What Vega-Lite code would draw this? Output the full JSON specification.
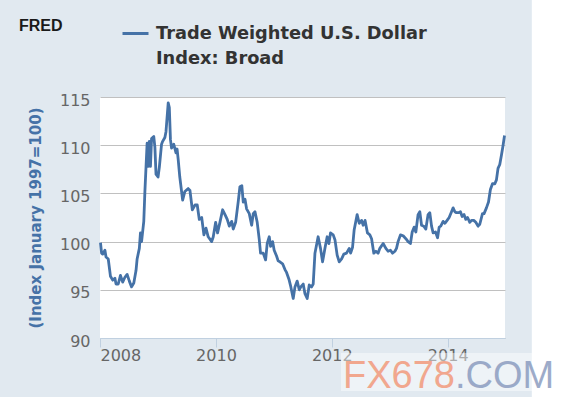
{
  "$schema": "https://vega.github.io/schema/vega-lite/v6.json",
  "width": 405,
  "height": 241,
  "autosize": {"type": "none"},
  "padding": {"left": 100, "top": 97, "right": 61, "bottom": 59},
  "background": "#E1E9F0",
  "title": {
    "text": ["Trade Weighted U.S. Dollar", "Index: Broad"],
    "anchor": "start",
    "frame": "group",
    "dx": 56,
    "dy": 77,
    "offset": 0,
    "font": "DejaVu Sans",
    "fontSize": 17.8,
    "fontWeight": "bold",
    "color": "#333333",
    "lineHeight": 25
  },
  "config": {
    "view": {"fill": "white", "stroke": null}
  },
  "data": {
    "values": [
      {"d": "2008-01-04", "v": 99.9}, {"d": "2008-01-11", "v": 98.8}, {"d": "2008-01-18", "v": 98.7}, {"d": "2008-02-01", "v": 99.1},
      {"d": "2008-02-08", "v": 98.4}, {"d": "2008-02-22", "v": 98.2}, {"d": "2008-03-07", "v": 96.4}, {"d": "2008-03-21", "v": 96.0},
      {"d": "2008-04-04", "v": 96.2}, {"d": "2008-04-11", "v": 95.6}, {"d": "2008-04-25", "v": 95.6}, {"d": "2008-05-09", "v": 96.5},
      {"d": "2008-05-23", "v": 95.8}, {"d": "2008-06-06", "v": 96.3}, {"d": "2008-06-20", "v": 96.6}, {"d": "2008-07-04", "v": 95.9},
      {"d": "2008-07-18", "v": 95.3}, {"d": "2008-08-01", "v": 95.7}, {"d": "2008-08-15", "v": 97.0}, {"d": "2008-08-22", "v": 98.2},
      {"d": "2008-09-05", "v": 99.3}, {"d": "2008-09-12", "v": 100.9}, {"d": "2008-09-19", "v": 100.0}, {"d": "2008-10-03", "v": 102.1},
      {"d": "2008-10-10", "v": 105.2}, {"d": "2008-10-24", "v": 110.2}, {"d": "2008-10-31", "v": 107.8}, {"d": "2008-11-07", "v": 110.4},
      {"d": "2008-11-14", "v": 107.8}, {"d": "2008-11-21", "v": 110.7}, {"d": "2008-12-05", "v": 110.9}, {"d": "2008-12-12", "v": 109.8},
      {"d": "2008-12-19", "v": 107.0}, {"d": "2009-01-01", "v": 106.7}, {"d": "2009-01-09", "v": 107.7}, {"d": "2009-01-23", "v": 110.1},
      {"d": "2009-01-30", "v": 110.4}, {"d": "2009-02-13", "v": 110.8}, {"d": "2009-02-20", "v": 111.4}, {"d": "2009-03-06", "v": 114.4},
      {"d": "2009-03-13", "v": 113.9}, {"d": "2009-03-20", "v": 110.6}, {"d": "2009-03-27", "v": 109.7}, {"d": "2009-04-10", "v": 110.1},
      {"d": "2009-04-24", "v": 109.2}, {"d": "2009-05-01", "v": 109.6}, {"d": "2009-05-08", "v": 108.5}, {"d": "2009-05-18", "v": 106.7},
      {"d": "2009-06-05", "v": 104.3}, {"d": "2009-06-19", "v": 105.2}, {"d": "2009-07-10", "v": 105.5}, {"d": "2009-07-21", "v": 105.3},
      {"d": "2009-08-05", "v": 103.3}, {"d": "2009-08-22", "v": 103.8}, {"d": "2009-09-05", "v": 103.8}, {"d": "2009-09-18", "v": 102.3},
      {"d": "2009-10-03", "v": 102.5}, {"d": "2009-10-17", "v": 100.7}, {"d": "2009-10-30", "v": 101.4}, {"d": "2009-11-13", "v": 100.5},
      {"d": "2009-12-05", "v": 100.0}, {"d": "2009-12-15", "v": 100.5}, {"d": "2009-12-30", "v": 102.0}, {"d": "2010-01-11", "v": 100.9},
      {"d": "2010-01-26", "v": 102.0}, {"d": "2010-02-12", "v": 103.3}, {"d": "2010-02-27", "v": 102.8}, {"d": "2010-03-13", "v": 102.3},
      {"d": "2010-03-26", "v": 101.6}, {"d": "2010-04-10", "v": 102.1}, {"d": "2010-04-20", "v": 101.3}, {"d": "2010-05-05", "v": 102.0},
      {"d": "2010-05-21", "v": 104.1}, {"d": "2010-06-01", "v": 105.7}, {"d": "2010-06-13", "v": 105.8}, {"d": "2010-06-22", "v": 104.1},
      {"d": "2010-07-03", "v": 104.4}, {"d": "2010-07-13", "v": 103.4}, {"d": "2010-07-30", "v": 102.9}, {"d": "2010-08-14", "v": 101.7},
      {"d": "2010-08-24", "v": 102.9}, {"d": "2010-09-04", "v": 103.1}, {"d": "2010-09-18", "v": 102.0}, {"d": "2010-10-01", "v": 100.2},
      {"d": "2010-10-09", "v": 98.8}, {"d": "2010-10-26", "v": 98.8}, {"d": "2010-11-10", "v": 98.1}, {"d": "2010-11-20", "v": 99.8},
      {"d": "2010-12-03", "v": 100.5}, {"d": "2010-12-11", "v": 99.5}, {"d": "2010-12-24", "v": 100.0}, {"d": "2011-01-03", "v": 99.1},
      {"d": "2011-01-18", "v": 98.5}, {"d": "2011-01-28", "v": 98.0}, {"d": "2011-02-08", "v": 97.9}, {"d": "2011-02-25", "v": 97.7},
      {"d": "2011-03-12", "v": 97.1}, {"d": "2011-03-22", "v": 96.8}, {"d": "2011-04-06", "v": 96.1}, {"d": "2011-04-18", "v": 95.3},
      {"d": "2011-05-03", "v": 94.1}, {"d": "2011-05-14", "v": 95.3}, {"d": "2011-05-28", "v": 95.9}, {"d": "2011-06-10", "v": 95.0},
      {"d": "2011-06-20", "v": 95.3}, {"d": "2011-07-05", "v": 95.6}, {"d": "2011-07-16", "v": 94.6}, {"d": "2011-07-30", "v": 94.1},
      {"d": "2011-08-12", "v": 95.5}, {"d": "2011-08-27", "v": 95.3}, {"d": "2011-09-06", "v": 95.6}, {"d": "2011-09-17", "v": 98.8},
      {"d": "2011-10-07", "v": 100.5}, {"d": "2011-10-22", "v": 99.3}, {"d": "2011-11-04", "v": 97.9}, {"d": "2011-11-19", "v": 99.3},
      {"d": "2011-12-03", "v": 100.5}, {"d": "2011-12-14", "v": 99.8}, {"d": "2011-12-24", "v": 100.9}, {"d": "2012-01-10", "v": 100.7},
      {"d": "2012-01-21", "v": 100.2}, {"d": "2012-02-04", "v": 98.6}, {"d": "2012-02-17", "v": 97.9}, {"d": "2012-03-03", "v": 98.2},
      {"d": "2012-03-17", "v": 98.7}, {"d": "2012-04-03", "v": 98.8}, {"d": "2012-04-20", "v": 99.3}, {"d": "2012-04-29", "v": 98.8},
      {"d": "2012-05-11", "v": 99.4}, {"d": "2012-05-21", "v": 101.2}, {"d": "2012-06-09", "v": 102.8}, {"d": "2012-06-22", "v": 101.9},
      {"d": "2012-07-07", "v": 102.2}, {"d": "2012-07-17", "v": 101.7}, {"d": "2012-07-29", "v": 102.2}, {"d": "2012-08-13", "v": 100.9},
      {"d": "2012-08-28", "v": 100.7}, {"d": "2012-09-08", "v": 100.3}, {"d": "2012-09-22", "v": 98.8}, {"d": "2012-10-05", "v": 99.0},
      {"d": "2012-10-19", "v": 98.8}, {"d": "2012-10-30", "v": 99.3}, {"d": "2012-11-20", "v": 99.8}, {"d": "2012-12-07", "v": 99.3},
      {"d": "2012-12-21", "v": 99.0}, {"d": "2013-01-05", "v": 99.1}, {"d": "2013-01-18", "v": 98.8}, {"d": "2013-02-02", "v": 99.0},
      {"d": "2013-02-12", "v": 99.3}, {"d": "2013-02-22", "v": 100.0}, {"d": "2013-03-09", "v": 100.7}, {"d": "2013-03-26", "v": 100.6},
      {"d": "2013-04-12", "v": 100.3}, {"d": "2013-04-26", "v": 100.0}, {"d": "2013-05-11", "v": 99.8}, {"d": "2013-05-22", "v": 101.0},
      {"d": "2013-06-03", "v": 101.5}, {"d": "2013-06-14", "v": 101.0}, {"d": "2013-06-28", "v": 102.8}, {"d": "2013-07-09", "v": 103.1},
      {"d": "2013-07-20", "v": 101.7}, {"d": "2013-08-03", "v": 101.6}, {"d": "2013-08-16", "v": 101.3}, {"d": "2013-08-30", "v": 102.8},
      {"d": "2013-09-10", "v": 103.0}, {"d": "2013-09-21", "v": 101.6}, {"d": "2013-10-01", "v": 100.9}, {"d": "2013-10-16", "v": 101.0},
      {"d": "2013-10-29", "v": 100.4}, {"d": "2013-11-08", "v": 101.5}, {"d": "2013-11-18", "v": 101.6}, {"d": "2013-12-03", "v": 102.1},
      {"d": "2013-12-14", "v": 101.9}, {"d": "2013-12-28", "v": 102.2}, {"d": "2014-01-10", "v": 102.5}, {"d": "2014-01-25", "v": 103.1},
      {"d": "2014-02-04", "v": 103.5}, {"d": "2014-02-15", "v": 103.1}, {"d": "2014-02-25", "v": 103.0}, {"d": "2014-03-10", "v": 103.0},
      {"d": "2014-03-22", "v": 103.1}, {"d": "2014-04-02", "v": 102.6}, {"d": "2014-04-14", "v": 102.8}, {"d": "2014-04-25", "v": 102.3},
      {"d": "2014-05-06", "v": 102.5}, {"d": "2014-05-20", "v": 102.0}, {"d": "2014-05-31", "v": 102.2}, {"d": "2014-06-14", "v": 102.2},
      {"d": "2014-06-27", "v": 102.0}, {"d": "2014-07-11", "v": 101.6}, {"d": "2014-07-22", "v": 101.8}, {"d": "2014-08-08", "v": 102.9},
      {"d": "2014-08-18", "v": 102.9}, {"d": "2014-09-02", "v": 103.5}, {"d": "2014-09-15", "v": 104.1}, {"d": "2014-09-27", "v": 105.4},
      {"d": "2014-10-10", "v": 106.0}, {"d": "2014-10-25", "v": 106.0}, {"d": "2014-11-04", "v": 106.4}, {"d": "2014-11-14", "v": 107.6},
      {"d": "2014-11-25", "v": 108.0}, {"d": "2014-12-06", "v": 109.0}, {"d": "2014-12-16", "v": 110.0}, {"d": "2014-12-25", "v": 111.0}
    ]
  },
  "layer": [
    {
      "mark": {"type": "line", "strokeWidth": 2.8, "strokeJoin": "round"},
      "encoding": {
        "x": {
          "field": "d",
          "type": "temporal",
          "scale": {"domain": ["2008-01-01", "2014-12-28"], "nice": false},
          "axis": {
            "title": null,
            "values": [{"year": 2008}, {"year": 2010}, {"year": 2012}, {"year": 2014}],
            "format": "%Y",
            "grid": false,
            "domainColor": "#C0D0E0",
            "domainWidth": 1,
            "tickColor": "#C0D0E0",
            "tickSize": 9,
            "labelPadding": 0,
            "labelFlush": true,
            "labelFont": "DejaVu Sans",
            "labelFontSize": 16,
            "labelColor": "#666666"
          }
        },
        "y": {
          "field": "v",
          "type": "quantitative",
          "scale": {"domain": [90, 115], "nice": false, "zero": false},
          "axis": {
            "title": "(Index January 1997=100)",
            "titleFont": "DejaVu Sans",
            "titleFontSize": 15,
            "titleFontWeight": "bold",
            "titleColor": "#4572A7",
            "titlePadding": 16,
            "values": [90, 95, 100, 105, 110, 115],
            "domain": false,
            "ticks": false,
            "grid": true,
            "gridColor": "#C0C0C0",
            "gridWidth": 1,
            "labelPadding": 10,
            "labelOffset": 3,
            "labelFont": "DejaVu Sans",
            "labelFontSize": 16,
            "labelColor": "#666666"
          }
        },
        "color": {
          "datum": "Trade Weighted U.S. Dollar Index: Broad",
          "type": "nominal",
          "scale": {"range": ["#4572A7"]},
          "legend": {
            "orient": "none",
            "legendX": 21,
            "legendY": -78,
            "title": null,
            "labelExpr": "''",
            "symbolType": "stroke",
            "symbolStrokeWidth": 3,
            "symbolSize": 676,
            "padding": 0,
            "symbolOffset": 0
          }
        }
      }
    },
    {
      "data": {"values": [{"t": "FRED"}]},
      "mark": {"type": "text", "align": "left", "baseline": "alphabetic", "font": "Liberation Sans", "fontSize": 16, "fontWeight": "bold", "color": "#1a1a1a"},
      "encoding": {
        "x": {"datum": {"year": 2006, "month": 8, "date": 8}, "type": "temporal"},
        "y": {"datum": 121.85, "type": "quantitative"},
        "text": {"field": "t"}
      }
    },
    {
      "data": {"values": [{"t": "margin"}]},
      "mark": {"type": "rect", "fill": "white"},
      "encoding": {
        "x": {"datum": {"year": 2015, "month": 6, "date": 15}, "type": "temporal"},
        "x2": {"datum": {"year": 2016, "month": 2, "date": 1}},
        "y": {"datum": 126, "type": "quantitative"},
        "y2": {"datum": 83}
      }
    },
    {
      "data": {"values": [{"t": "box"}]},
      "mark": {"type": "rect", "fill": "white", "opacity": 0.45},
      "encoding": {
        "x": {"datum": {"year": 2012, "month": 2, "date": 28}, "type": "temporal"},
        "x2": {"datum": {"year": 2015, "month": 10, "date": 18}},
        "y": {"datum": 88.44, "type": "quantitative"},
        "y2": {"datum": 84.5}
      }
    },
    {
      "data": {"values": [{"t": "FX678"}]},
      "mark": {"type": "text", "align": "left", "baseline": "alphabetic", "font": "Liberation Sans", "fontSize": 38, "color": "#F29A7C", "opacity": 0.85},
      "encoding": {
        "x": {"datum": {"year": 2012, "month": 3, "date": 12}, "type": "temporal"},
        "y": {"datum": 84.81, "type": "quantitative"},
        "text": {"field": "t"}
      }
    },
    {
      "data": {"values": [{"t": ".COM"}]},
      "mark": {"type": "text", "align": "left", "baseline": "alphabetic", "font": "Liberation Sans", "fontSize": 38, "color": "#8C9DC0", "opacity": 0.85},
      "encoding": {
        "x": {"datum": {"year": 2014, "month": 2, "date": 16}, "type": "temporal"},
        "y": {"datum": 84.81, "type": "quantitative"},
        "text": {"field": "t"}
      }
    }
  ]
}
